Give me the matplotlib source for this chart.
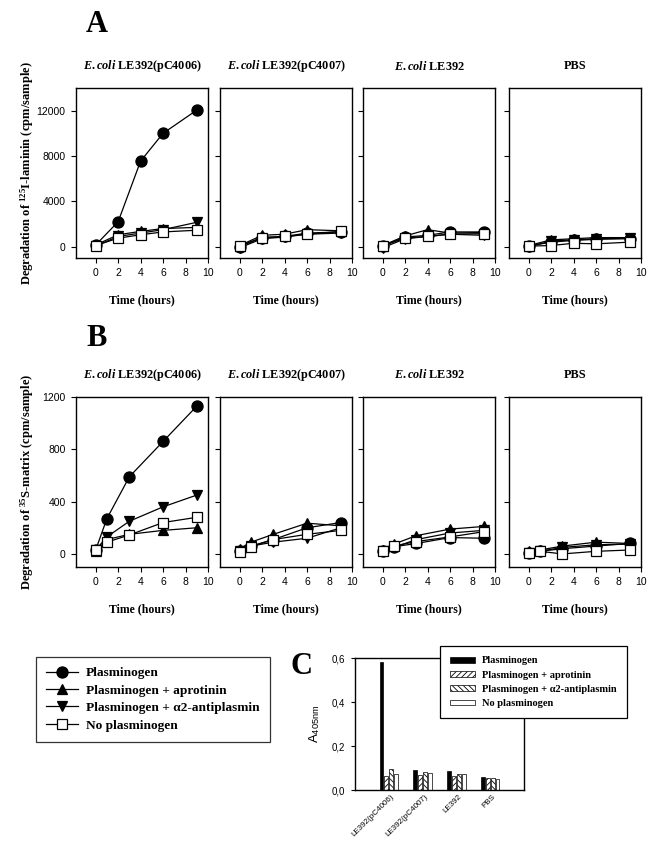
import numpy as np
import matplotlib.pyplot as plt
from matplotlib.lines import Line2D
from matplotlib.patches import Patch

plt.rcParams['font.family'] = 'Liberation Sans'
plt.rcParams['mathtext.fontset'] = 'custom'
plt.rcParams['mathtext.rm'] = 'Liberation Serif:bold'
plt.rcParams['mathtext.it'] = 'Liberation Serif:italic:bold'
plt.rcParams['mathtext.bf'] = 'Liberation Serif:bold'
plt.rcParams['mathtext.sf'] = 'Liberation Sans'
plt.rcParams['hatch.linewidth'] = 0.6

W, H = 653, 843
SERIF = 'Liberation Serif'

titles = ["$\\mathit{E.coli}$ LE392(pC4006)", "$\\mathit{E.coli}$ LE392(pC4007)",
          "$\\mathit{E.coli}$ LE392", "PBS"]
names = ["Plasminogen", "Plasminogen + aprotinin",
         "Plasminogen + \u03b12-antiplasmin", "No plasminogen"]

# panel A: 125I-laminin, one list per strain
t_lam = [0, 2, 4, 6, 9]
lam_plg = [[150, 2200, 7550, 10000, 12050], [0, 800, 900, 1200, 1300],
           [50, 850, 1000, 1300, 1300], [50, 400, 550, 650, 700]]
lam_apr = [[150, 1050, 1350, 1600, 1700], [100, 1000, 1100, 1500, 1400],
           [100, 950, 1500, 1200, 1250], [100, 600, 700, 800, 800]]
lam_a2 = [[50, 900, 1200, 1500, 2150], [-100, 700, 850, 1100, 1200],
          [-100, 700, 900, 1100, 1000], [0, 500, 600, 700, 750]]
lam_none = [[100, 750, 1050, 1300, 1450], [80, 800, 900, 1100, 1350],
            [80, 750, 900, 1100, 1150], [50, 100, 300, 250, 400]]

# panel B: 35S-matrix
t_mat = [0, 1, 3, 6, 9]
mat_plg = [[30, 270, 590, 860, 1130], [20, 60, 110, 200, 240],
           [20, 55, 80, 125, 120], [10, 20, 40, 60, 80]]
mat_apr = [[20, 110, 150, 180, 200], [40, 90, 150, 235, 215],
           [30, 75, 140, 190, 210], [20, 30, 60, 90, 80]]
mat_a2 = [[30, 130, 250, 360, 450], [20, 60, 90, 120, 200],
          [20, 50, 110, 160, 180], [10, 20, 50, 70, 75]]
mat_none = [[30, 90, 145, 240, 280], [15, 55, 110, 150, 180],
            [20, 60, 95, 130, 170], [10, 20, 0, 20, 30]]

# panel C: A405nm
c_cats = ["LE392(pC4006)", "LE392(pC4007)", "LE392", "PBS"]
c_plg = [0.58, 0.09, 0.088, 0.06]
c_apr = [0.065, 0.07, 0.065, 0.055]
c_a2 = [0.095, 0.082, 0.075, 0.055]
c_none = [0.073, 0.077, 0.072, 0.05]

styles = [dict(marker='o', ms=8, mfc='black'),
          dict(marker='^', ms=7.5, mfc='black'),
          dict(marker='v', ms=7.5, mfc='black'),
          dict(marker='s', ms=7, mfc='white')]

fig = plt.figure(figsize=(W / 100, H / 100), dpi=100)


def px_axes(l, t, w, h):
    return fig.add_axes([l / W, 1 - (t + h) / H, w / W, h / H])


lefts = [76, 220, 363, 509]


def draw_row(top, t, data, ylim, yticks, ylabel, letter, letter_y):
    axes = []
    for i, left in enumerate(lefts):
        ax = px_axes(left, top, 132, 170)
        for k, series in enumerate(data):
            ax.plot(t, series[i], color='black', lw=0.9, mec='black',
                    mew=0.9, zorder=3 + k, **styles[k])
        ax.set_xlim(-1.75, 10)
        ax.set_ylim(*ylim)
        ax.set_xticks([0, 2, 4, 6, 8, 10])
        ax.set_yticks(yticks)
        ax.tick_params(direction='out', length=3.5, width=0.8, labelsize=7.5, pad=4)
        if i > 0:
            ax.set_yticklabels([])
        for s in ax.spines.values():
            s.set_linewidth(1.0)
        cx = (left + 66) / W
        fig.text(cx, 1 - (top - 22) / H, titles[i], family=SERIF, weight='bold',
                 fontsize=8.8, ha='center', va='center')
        fig.text(cx, 1 - (top + 212) / H, "Time (hours)", family=SERIF, weight='bold',
                 fontsize=8.5, ha='center', va='center')
        axes.append(ax)
    fig.text(27 / W, 1 - (top + 85) / H, ylabel, family=SERIF, weight='bold',
             fontsize=9, rotation=90, ha='center', va='center')
    fig.text(97 / W, 1 - letter_y / H, letter, family=SERIF, weight='bold',
             fontsize=22, ha='center', va='center')
    return axes


axA = draw_row(88, t_lam, [lam_plg, lam_apr, lam_a2, lam_none], (-1000, 14000),
               [0, 4000, 8000, 12000],
               "Degradation of $^{125}$I-laminin (cpm/sample)", "A", 24)
axB = draw_row(397, t_mat, [mat_plg, mat_apr, mat_a2, mat_none], (-100, 1200),
               [0, 400, 800, 1200],
               "Degradation of $^{35}$S-matrix (cpm/sample)", "B", 338)

# left legend for A/B
handles = [Line2D([], [], color='black', lw=0.9, mec='black', mew=0.9, **st)
           for st in styles]
fig.legend(handles, names, loc='upper left', bbox_to_anchor=(36 / W, 1 - 657 / H),
           borderaxespad=0, frameon=True, fancybox=False, edgecolor='black',
           handlelength=2.4, labelspacing=0.38, borderpad=0.75, handletextpad=0.6,
           prop=dict(family=SERIF, weight='bold', size=9.6)).get_frame().set_linewidth(0.9)

fig.text(302 / W, 1 - 666 / H, "C", family=SERIF, weight='bold', fontsize=22,
         ha='center', va='center')

# panel C bars
axC = px_axes(355, 658, 169, 132)
x = np.arange(len(c_cats))
step, bw = 0.145, 0.115
bar_styles = [dict(color='black'),
              dict(facecolor='white', hatch='//////'),
              dict(facecolor='white', hatch='\\\\\\\\\\\\'),
              dict(facecolor='white')]
for k, vals in enumerate([c_plg, c_apr, c_a2, c_none]):
    axC.bar(x + (k - 1.5) * step, vals, bw, edgecolor='black', linewidth=0.5,
            **bar_styles[k])
axC.set_xlim(-1, 4)
axC.set_ylim(0, 0.6)
axC.set_yticks([0, 0.2, 0.4, 0.6])
axC.set_yticklabels(["0,0", "0,2", "0,4", "0,6"])
axC.set_xticks(x + 0.05)
axC.set_xticklabels(c_cats, rotation=45, ha='right', rotation_mode='anchor')
axC.tick_params(axis='y', direction='out', length=3, width=0.8, labelsize=7, pad=4)
axC.tick_params(axis='x', length=0, labelsize=5.8, pad=2)
for s in axC.spines.values():
    s.set_linewidth(1.0)
axC.set_ylabel("$\\mathsf{A}_{\\mathsf{405nm}}$", fontsize=9.5, labelpad=7)

bar_handles = [Patch(edgecolor='black', linewidth=0.5, **st) for st in bar_styles]
lgC = axC.legend(bar_handles, names, loc='upper left',
                 bbox_to_anchor=(440 / W, 1 - 646 / H), bbox_transform=fig.transFigure,
                 borderaxespad=0, frameon=True, fancybox=False, edgecolor='black',
                 framealpha=1, handlelength=2.4, handleheight=0.45, labelspacing=0.5,
                 borderpad=1.0, handletextpad=0.6,
                 prop=dict(family=SERIF, weight='bold', size=7.5))
lgC.get_frame().set_linewidth(0.9)

fig.savefig("out.png", dpi=100)
